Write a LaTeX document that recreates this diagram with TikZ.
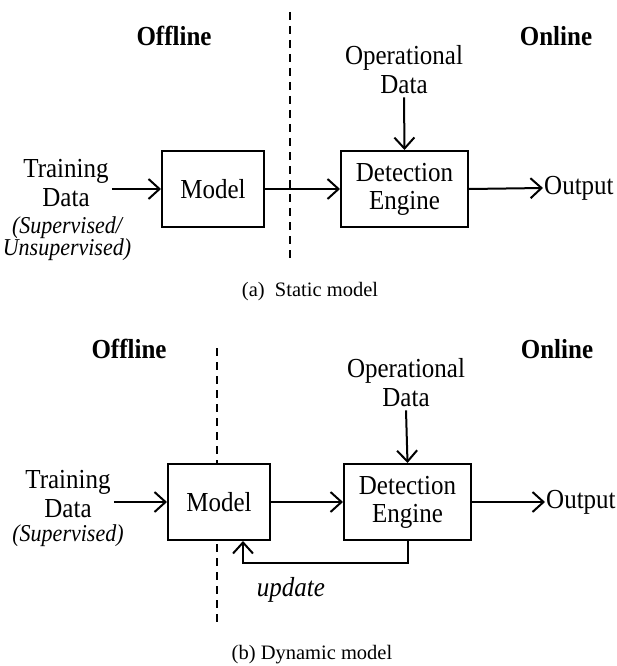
\documentclass[tikz,border=0pt]{standalone}
\usepackage{fontspec}
\setmainfont{Liberation Serif}
\usetikzlibrary{arrows.meta}
\newcommand{\vst}[1]{\scalebox{1}[1.1]{#1}}
\begin{document}
\begin{tikzpicture}[x=1pt,y=-1pt,
  txt/.style={inner sep=0pt, font=\fontsize{25}{29}\selectfont, align=center},
  sub/.style={inner sep=0pt, font=\fontsize{22}{22}\selectfont\itshape, align=center},
  head/.style={inner sep=0pt, font=\fontsize{25}{29}\selectfont\bfseries},
  captxt/.style={inner sep=0pt, font=\fontsize{20.5}{24}\selectfont},
  blk/.style={draw, line width=2pt, fill=white, inner sep=0pt, minimum width=102pt, minimum height=76pt, anchor=north west, font=\fontsize{25}{28}\selectfont, align=center},
  dblk/.style={blk, minimum width=127pt},
  arr/.style={line width=2pt, -{Straight Barb[length=11pt,width=20pt,line width=2pt]}},
  divider/.style={line width=1.5pt, dash pattern=on 8pt off 6pt}
]
\useasboundingbox (0,0) rectangle (616,666);

% ---------- (a) Static model ----------
\coordinate (d1t) at (290,12);
\coordinate (d1b) at (290,263);
\draw[divider] (d1t) -- (d1b);
\node[head] (off1) at (174,36) {\vst{Offline}};
\node[head] (on1) at (556,36) {\vst{Online}};
\node[txt, inner sep=3pt] (op1) at (404,70) {\vst{Operational}\\\vst{Data}};
\node[blk] (m1) at (161,150) {\vst{Model}};
\node[dblk] (de1) at (340,150) {\vst{Detection}\\\vst{Engine}};
\node[txt] (tr1) at (66,183) {\vst{Training}\\\vst{Data}};
\node[sub] (ts1) at (67,239) {\vst{(Supervised/}\\\vst{Unsupervised)}};
\node[txt, inner sep=1pt, anchor=west] (out1) at (543,188) {\vst{Output}};
\node[captxt] (c1) at (310,292) {(a)\ \ Static model};
\draw[arr] (tr1.east |- m1.west) ++(3,0) -- (m1.west);
\draw[arr] (m1.east) -- (de1.west);
\draw[arr] (op1.south) -- (de1.north);
\draw[arr] (de1.east) -- (out1.west);

% ---------- (b) Dynamic model ----------
\coordinate (d2t) at (217,348);
\coordinate (d2b) at (217,623);
\draw[divider] (d2t) -- (d2b);
\node[head] (off2) at (129,349) {\vst{Offline}};
\node[head] (on2) at (557,349) {\vst{Online}};
\node[txt, inner sep=3pt] (op2) at (406,383) {\vst{Operational}\\\vst{Data}};
\node[blk] (m2) at (167,463) {\vst{Model}};
\node[dblk] (de2) at (343,463) {\vst{Detection}\\\vst{Engine}};
\node[txt] (tr2) at (68,494) {\vst{Training}\\\vst{Data}};
\node[sub] (ts2) at (68,536) {\vst{(Supervised)}};
\node[txt, inner sep=1pt, anchor=west] (out2) at (545,502) {\vst{Output}};
\node[sub, font=\fontsize{25}{28}\selectfont\itshape] (up) at (291,590) {\vst{update}};
\node[captxt] (c2) at (312,655) {(b) Dynamic model};
\coordinate (u) at (243,563);
\draw[arr] (tr2.east |- m2.west) ++(3,0) -- (m2.west);
\draw[arr] (m2.east) -- (de2.west);
\draw[arr] (op2.south) -- (de2.north);
\draw[arr] (de2.east) -- (out2.west);
\draw[arr] (de2.south) -- (de2.south |- u) -- (u) -- (u |- m2.south);
\end{tikzpicture}
\end{document}
